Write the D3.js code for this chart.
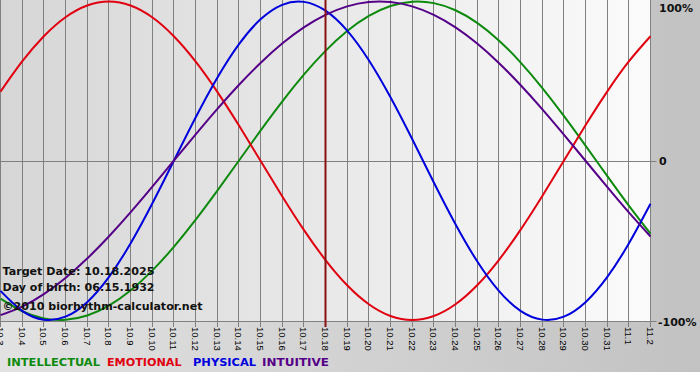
<!DOCTYPE html>
<html><head><meta charset="utf-8">
<script src="https://cdn.jsdelivr.net/npm/d3@7"></script>
<style>html,body{margin:0;padding:0;background:#fff;}svg{display:block;}</style>
</head><body>
<svg id="chart" width="700" height="380"></svg>
<script>
const days = ["10.3","10.4","10.5","10.6","10.7","10.8","10.9","10.10","10.11","10.12","10.13","10.14","10.15","10.16","10.17","10.18","10.19","10.20","10.21","10.22","10.23","10.24","10.25","10.26","10.27","10.28","10.29","10.30","10.31","11.1","11.2"];
const physical = [-0.8170,-0.9423,-0.9977,-0.9791,-0.8879,-0.7308,-0.5196,-0.2698,0,0.2698,0.5196,0.7308,0.8879,0.9791,0.9977,0.9423,0.8170,0.6311,0.3984,0.1362,-0.1362,-0.3984,-0.6311,-0.8170,-0.9423,-0.9977,-0.9791,-0.8879,-0.7308,-0.5196,-0.2698];
const emotional = [0.4339,0.6235,0.7818,0.9010,0.9749,1,0.9749,0.9010,0.7818,0.6235,0.4339,0.2225,0,-0.2225,-0.4339,-0.6235,-0.7818,-0.9010,-0.9749,-1,-0.9749,-0.9010,-0.7818,-0.6235,-0.4339,-0.2225,0,0.2225,0.4339,0.6235,0.7818];
const intellectual = [-0.8660,-0.9450,-0.9898,-0.9989,-0.9718,-0.9096,-0.8146,-0.6901,-0.5406,-0.3717,-0.1893,0,0.1893,0.3717,0.5406,0.6901,0.8146,0.9096,0.9718,0.9989,0.9898,0.9450,0.8660,0.7557,0.6182,0.4582,0.2817,0.0951,-0.0951,-0.2817,-0.4582];
const intuitive = [-0.9694,-0.9158,-0.8372,-0.7357,-0.6142,-0.4759,-0.3247,-0.1646,0,0.1646,0.3247,0.4759,0.6142,0.7357,0.8372,0.9158,0.9694,0.9966,0.9966,0.9694,0.9158,0.8372,0.7357,0.6142,0.4759,0.3247,0.1646,0,-0.1646,-0.3247,-0.4759];
const targetDay = "10.18";
const yTicks = [{v:1,t:"100%"},{v:0,t:"0"},{v:-1,t:"-100%"}];
const legend = [{name:"INTELLECTUAL",color:"#0d8a0d"},{name:"EMOTIONAL",color:"#e00010"},{name:"PHYSICAL",color:"#0000dd"},{name:"INTUITIVE",color:"#550088"}];
const infoLines = ["Target Date: 10.18.2025","Day of birth: 06.15.1932","©2010 biorhythm-calculator.net"];

const svg = d3.select("#chart");
const defs = svg.append("defs");
const g1 = defs.append("linearGradient").attr("id","outer").attr("x1","0").attr("x2","1").attr("y1","0").attr("y2","0");
g1.append("stop").attr("offset","0").attr("stop-color","#e2e2e2");
g1.append("stop").attr("offset","1").attr("stop-color","#c2c2c2");
const g2 = defs.append("linearGradient").attr("id","plot").attr("x1","0").attr("x2","1").attr("y1","0").attr("y2","0");
g2.append("stop").attr("offset","0").attr("stop-color","#d6d6d6");
g2.append("stop").attr("offset","1").attr("stop-color","#fbfbfb");

const x = d3.scaleLinear().domain([0, days.length-1]).range([0.5, 650.5]);
const y = d3.scaleLinear().domain([-1, 1]).range([320, 1.5]);
const plotBottom = 321;

svg.append("rect").attr("x",0).attr("y",0).attr("width",700).attr("height",372).attr("fill","url(#outer)");
svg.append("rect").attr("x",0).attr("y",0).attr("width",x(days.length-1)).attr("height",plotBottom).attr("fill","url(#plot)");

const grid = svg.append("g");
days.forEach((d,i)=>{
  const xx = Math.round(x(i)-0.5)+0.5;
  grid.append("line").attr("x1",xx).attr("x2",xx).attr("y1",0).attr("y2",plotBottom+6)
    .attr("stroke","#808080").attr("stroke-width",1);
});
grid.append("line").attr("x1",0).attr("x2",x(days.length-1)+6).attr("y1",Math.round(y(0))+0.5).attr("y2",Math.round(y(0))+0.5).attr("stroke","#808080");
grid.append("line").attr("x1",0).attr("x2",x(days.length-1)+6).attr("y1",plotBottom+0.5).attr("y2",plotBottom+0.5).attr("stroke","#808080");

const lab = svg.append("g").attr("font-family","'Liberation Sans', Arial, sans-serif").attr("font-size","9.5px").attr("fill","#000");
days.forEach((d,i)=>{
  lab.append("text").attr("transform",`translate(${x(i)},${plotBottom+6}) rotate(90)`)
    .attr("dominant-baseline","central").attr("text-anchor","start").text(d);
});

const line = d3.line().x((d,i)=>x(i)).y(d=>y(d)).curve(d3.curveNatural);
const series = [{v:intellectual,c:legend[0].color},{v:emotional,c:legend[1].color},{v:physical,c:legend[2].color},{v:intuitive,c:legend[3].color}];
series.forEach(s=>{
  svg.append("path").attr("d",line(s.v)).attr("fill","none").attr("stroke",s.c).attr("stroke-width",2);
});

const ti = days.indexOf(targetDay);
svg.append("line").attr("x1",x(ti)).attr("x2",x(ti)).attr("y1",0).attr("y2",plotBottom+6).attr("stroke","#8a1010").attr("stroke-width",2);

const yl = svg.append("g").attr("font-family","'DejaVu Sans', Verdana, sans-serif").attr("font-weight","bold").attr("font-size","11px").attr("fill","#111");
const yLabelPos = {"1":8, "0":161, "-1":322};
yTicks.forEach(t=>{
  yl.append("text").attr("x", t.v===-1 ? 658 : 659).attr("y", yLabelPos[String(t.v)]).attr("dy","0.36em").text(t.t);
});

const info = svg.append("g").attr("font-family","'DejaVu Sans', Verdana, sans-serif").attr("font-weight","bold").attr("font-size","10.5px").attr("fill","#111");
const infoY = [275, 291, 310];
const infoW = [152, 152, 200];
infoLines.forEach((t,i)=>{
  info.append("text").attr("x",2.5).attr("y",infoY[i]).attr("textLength",infoW[i]).attr("lengthAdjust","spacingAndGlyphs").text(t);
});

const legX = [7, 107, 193, 262];
const legW = [93, 74.5, 63, 67];
const lg = svg.append("g").attr("font-family","'DejaVu Sans', Verdana, sans-serif").attr("font-weight","bold").attr("font-size","11px");
legend.forEach((l,i)=>{
  lg.append("text").attr("x",legX[i]).attr("y",366).attr("fill",l.color).attr("textLength",legW[i]).attr("lengthAdjust","spacingAndGlyphs").text(l.name);
});
</script>
</body></html>
